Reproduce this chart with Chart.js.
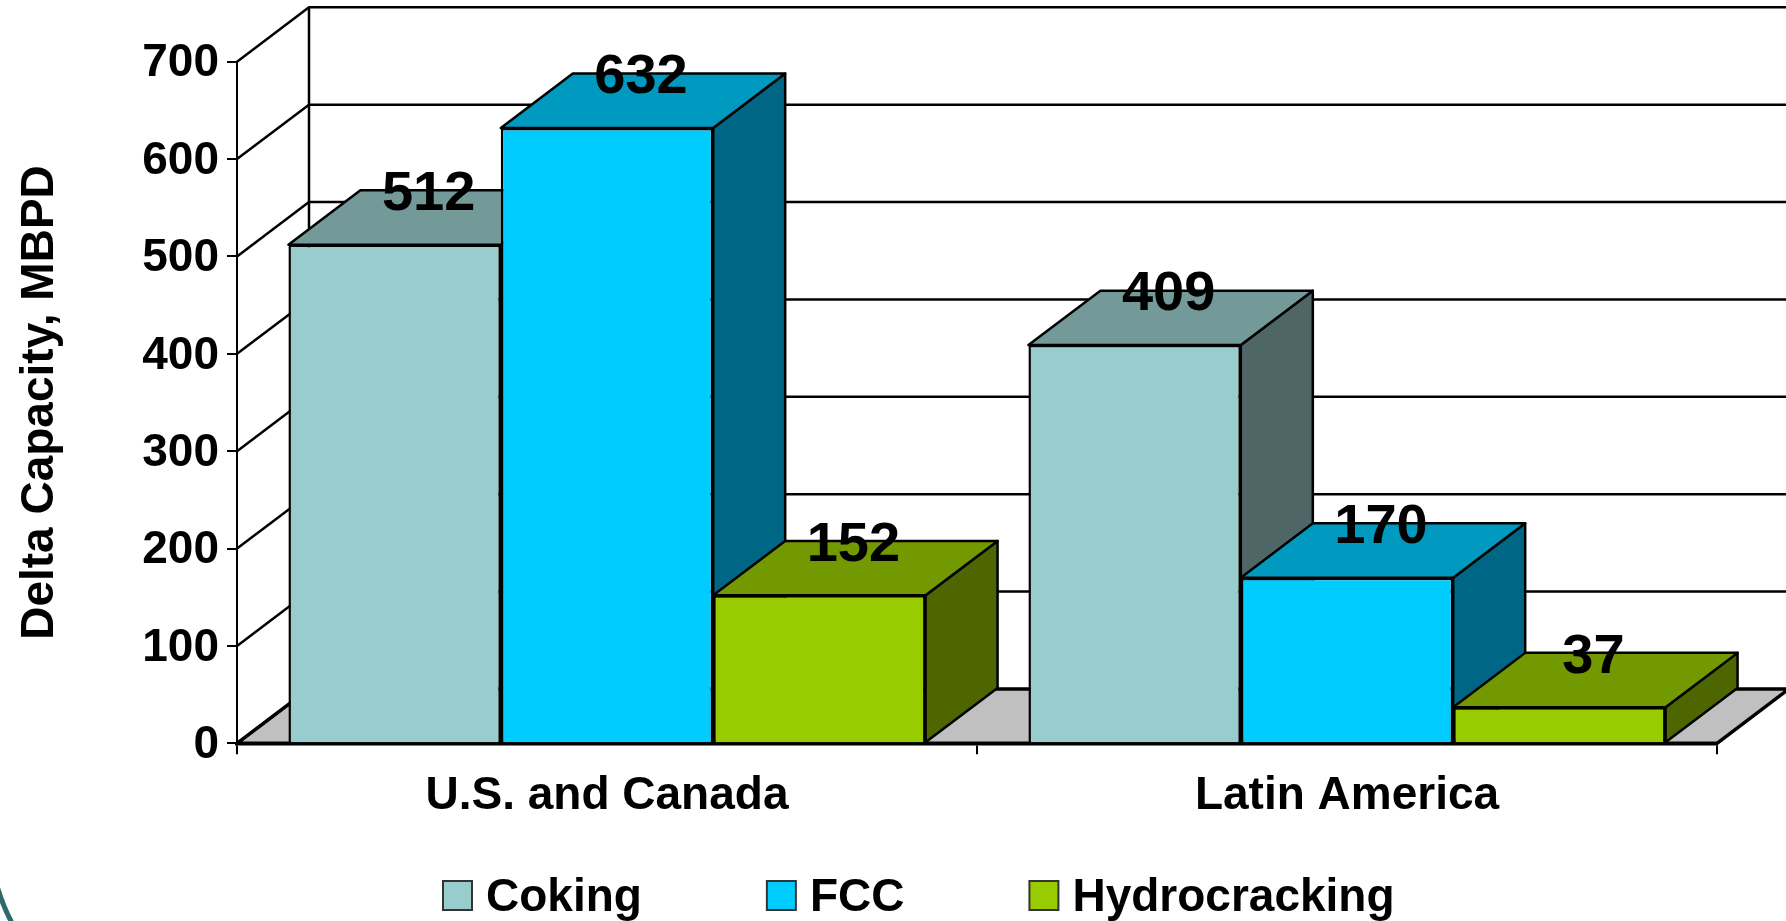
<!DOCTYPE html>
<html>
<head>
<meta charset="utf-8">
<title>Delta Capacity</title>
<script src="https://cdn.jsdelivr.net/npm/chart.js@4"></script>
<style>
    html, body { margin: 0; padding: 0; background: #fff; overflow: hidden; }
    #wrap { width: 1786px; height: 921px; }
</style>
</head>
<body>
<div id="wrap"><canvas id="capacityChart" width="1786" height="921"></canvas></div>
<script>
const regions = ['U.S. and Canada', 'Latin America'];
const coking = [512, 409];
const fcc = [632, 170];
const hydrocracking = [152, 37];

const seriesNames = ['Coking', 'FCC', 'Hydrocracking'];
const frontColors = ['#99CCCC', '#00CCFF', '#99CC00'];
const topColors = ['#739999', '#0099BF', '#739900'];
const sideColors = ['#4F6666', '#006685', '#4D6600'];

const FONT = '"Liberation Sans", Arial, sans-serif';
const DEPTH_X = 72;
const DEPTH_Y = 54.4;
const LINE = 2.5;

function fillFace(ctx, pts, color) {
    ctx.beginPath();
    ctx.moveTo(pts[0][0], pts[0][1]);
    for (let i = 1; i < pts.length; i++) ctx.lineTo(pts[i][0], pts[i][1]);
    ctx.closePath();
    ctx.fillStyle = color;
    ctx.fill();
    ctx.stroke();
}

// back wall, side wall, floor, then the top and side of every block.
// The fronts all sit on one plane, so Chart.js can paint them afterwards in any order.
const roomPlugin = {
    id: 'room',
    beforeDraw(chart) {
        // tick labels sit a little lower than canvas "middle" puts them
        chart.scales.y.getLabelItems().forEach(item => {
            if (!item.shifted) {
                item.options.translation[1] += 2;
                item.shifted = true;
            }
        });
    },
    beforeDatasetsDraw(chart) {
        const { ctx, chartArea: area, scales } = chart;
        const y = scales.y;
        ctx.save();
        ctx.strokeStyle = '#000';
        ctx.lineJoin = 'round';

        ctx.lineWidth = 3.5;
        fillFace(ctx, [
            [area.left, area.bottom],
            [area.left + DEPTH_X, area.bottom - DEPTH_Y],
            [area.right + DEPTH_X, area.bottom - DEPTH_Y],
            [area.right, area.bottom]
        ], '#C0C0C0');

        ctx.lineWidth = LINE;
        y.ticks.forEach(t => {
            const py = y.getPixelForValue(t.value);
            ctx.beginPath();
            ctx.moveTo(area.left, py);
            ctx.lineTo(area.left + DEPTH_X, py - DEPTH_Y);
            if (t.value > 0) ctx.lineTo(area.right + DEPTH_X, py - DEPTH_Y);
            ctx.stroke();
        });
        ctx.beginPath();
        ctx.moveTo(area.left + DEPTH_X, area.top - DEPTH_Y);
        ctx.lineTo(area.left + DEPTH_X, area.bottom - DEPTH_Y);
        ctx.stroke();

        chart.data.labels.forEach((label, j) => {
            chart.data.datasets.forEach((ds, i) => {
                const bar = chart.getDatasetMeta(i).data[j];
                const left = bar.x - bar.width / 2;
                const right = bar.x + bar.width / 2;
                fillFace(ctx, [
                    [right, bar.y],
                    [right + DEPTH_X, bar.y - DEPTH_Y],
                    [right + DEPTH_X, bar.base - DEPTH_Y],
                    [right, bar.base]
                ], sideColors[i]);
                fillFace(ctx, [
                    [left, bar.y],
                    [left + DEPTH_X, bar.y - DEPTH_Y],
                    [right + DEPTH_X, bar.y - DEPTH_Y],
                    [right, bar.y]
                ], topColors[i]);
            });
        });
        ctx.restore();
    }
};

// value labels, legend row and the bit of slide artwork in the corner
const overlayPlugin = {
    id: 'overlay',
    afterDatasetsDraw(chart) {
        const { ctx } = chart;
        ctx.save();
        ctx.fillStyle = '#000';
        ctx.font = 'bold 56px ' + FONT;
        ctx.textAlign = 'center';
        ctx.textBaseline = 'middle';
        chart.data.datasets.forEach((ds, i) => {
            chart.getDatasetMeta(i).data.forEach((bar, j) => {
                ctx.fillText(String(ds.data[j]), bar.x + 34, bar.y - 50);
            });
        });
        ctx.restore();
    },
    afterDraw(chart) {
        const { ctx } = chart;
        ctx.save();
        ctx.font = 'bold 46px ' + FONT;
        ctx.textBaseline = 'alphabetic';
        ctx.textAlign = 'left';
        let x = 443;
        seriesNames.forEach((name, i) => {
            ctx.fillStyle = frontColors[i];
            ctx.strokeStyle = '#333';
            ctx.lineWidth = 2;
            ctx.fillRect(x, 881, 29, 29);
            ctx.strokeRect(x, 881, 29, 29);
            ctx.fillStyle = '#000';
            ctx.fillText(name, x + 43, 911);
            x += 43 + ctx.measureText(name).width + 125;
        });

        ctx.strokeStyle = '#2F6B6B';
        ctx.lineWidth = 5;
        ctx.beginPath();
        ctx.moveTo(-2, 889);
        ctx.quadraticCurveTo(3, 906, 12, 923);
        ctx.stroke();
        ctx.restore();
    }
};

new Chart(document.getElementById('capacityChart'), {
    type: 'bar',
    data: {
        labels: regions,
        datasets: [
            { label: seriesNames[0], data: coking, backgroundColor: frontColors[0] },
            { label: seriesNames[1], data: fcc, backgroundColor: frontColors[1] },
            { label: seriesNames[2], data: hydrocracking, backgroundColor: frontColors[2] }
        ].map(ds => ({ ...ds, borderColor: '#000', borderWidth: LINE, barPercentage: 1, categoryPercentage: 0.861 }))
    },
    options: {
        responsive: false,
        animation: false,
        events: [],
        layout: { padding: { left: 0, right: 69, top: 61.7, bottom: 0 } },
        plugins: {
            legend: { display: false },
            tooltip: { enabled: false }
        },
        scales: {
            x: {
                afterFit(scale) { scale.height = 177.7; },
                grid: { display: true, drawOnChartArea: false, tickLength: 11, color: '#000', lineWidth: 2 },
                border: { display: true, color: '#000', width: 3.5 },
                ticks: {
                    color: '#000',
                    maxRotation: 0,
                    padding: 14,
                    font: { family: FONT, size: 46, weight: 'bold' }
                }
            },
            y: {
                min: 0,
                max: 700,
                afterFit(scale) { scale.width = 237; },
                grid: { display: true, drawOnChartArea: false, tickLength: 10, color: '#000', lineWidth: 2 },
                border: { display: true, color: '#000', width: 2 },
                ticks: {
                    stepSize: 100,
                    color: '#000',
                    padding: 8,
                    font: { family: FONT, size: 46, weight: 'bold' }
                },
                title: {
                    display: true,
                    text: 'Delta Capacity, MBPD',
                    color: '#000',
                    padding: { top: 13, bottom: 0 },
                    font: { family: FONT, size: 46, weight: 'bold' }
                }
            }
        }
    },
    plugins: [roomPlugin, overlayPlugin]
});
</script>
</body>
</html>
